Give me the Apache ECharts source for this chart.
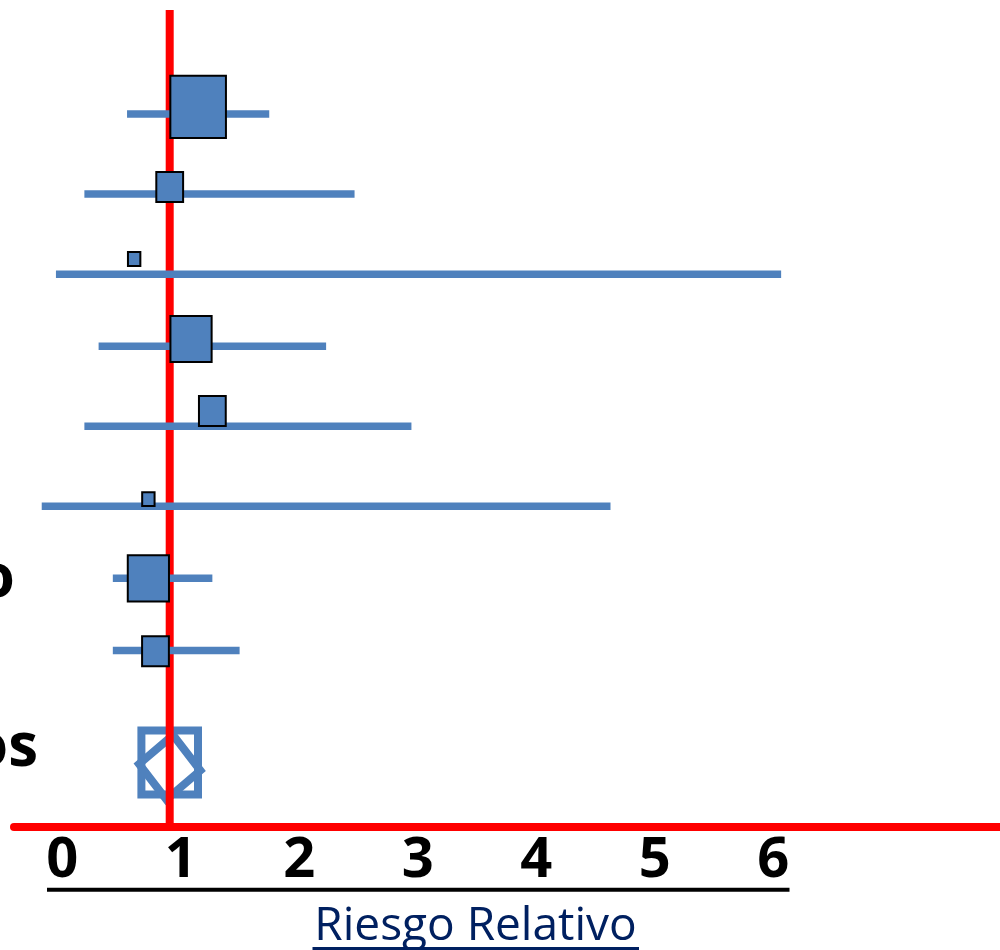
<!DOCTYPE html>
<html>
<head>
<meta charset="utf-8">
<script src="https://cdn.jsdelivr.net/npm/echarts@6/dist/echarts.min.js"></script>
<style>
  html, body { margin: 0; padding: 0; background: #ffffff; }
  #chart { width: 1000px; height: 950px; }
</style>
</head>
<body>
<div id="chart"></div>
<script>
// ---- data ----
const tickValues = [0, 1, 2, 3, 4, 5, 6];
const tickLabels = ['0', '1', '2', '3', '4', '5', '6'];
const axisTitle = 'Riesgo Relativo';

// study rows (top to bottom)
const rowPos   = [1.30, 2.30, 3.30, 4.20, 5.20, 6.20, 7.10, 8.00];
const boxPos   = [1.21, 2.21, 3.11, 4.11, 5.01, 6.11, 7.10, 8.01];
const estimate = [1.24, 1.00, 0.70, 1.18, 1.36, 0.82, 0.82, 0.88];
const lower    = [0.64, 0.28, 0.04, 0.40, 0.28, -0.08, 0.52, 0.52];
const upper    = [1.84, 2.56, 6.16, 2.32, 3.04, 4.72, 1.36, 1.59];
const weight   = [4, 2, 1, 3, 2, 1, 3, 2];

// pooled result
const pooledEstimate = [1.00];
const pooledLower    = [0.74];
const pooledUpper    = [1.26];
const pooledRow      = [9.46];
const pooledBoxRow   = [9.40];
const pooledWeight   = [4];

// visible fragments of row labels (cut off at the left edge)
const labelFragments = ['o', 'os'];
const referenceValue = [1];

// ---- styling ----
const BLUE = '#4F81BD';
const RED = '#FF0000';
const NAVY = '#002060';
const UNIT = 14.4; // px per weight unit

const chart = echarts.init(document.getElementById('chart'), null, { renderer: 'canvas' });

const option = {
  animation: false,
  backgroundColor: '#ffffff',
  grid: { left: 14, right: 0, top: 10, bottom: 123.5, containLabel: false, outerBoundsMode: 'none' },
  xAxis: {
    type: 'value',
    min: -0.314,
    max: 8.007,
    splitLine: { show: false },
    axisTick: { show: false },
    axisLine: { show: true, onZero: false, lineStyle: { color: RED, width: 8 } },
    axisLabel: {
      customValues: tickValues,
      formatter: v => tickLabels[tickValues.indexOf(v)] ?? '',
      fontFamily: 'Open Sans',
      fontWeight: 'bold',
      fontSize: 56,
      color: '#000000',
      margin: 7,
      padding: [0, 0, 0, 22]
    },
    name: axisTitle,
    nameLocation: 'middle',
    nameGap: 77,
    nameTextStyle: {
      fontFamily: 'Open Sans',
      fontSize: 46,
      color: NAVY,
      padding: [0, 63, 0, 0]
    }
  },
  yAxis: {
    type: 'value',
    inverse: true,
    min: 0,
    max: 10.2,
    show: false
  },
  series: [
    // pooled summary (under the reference line)
    {
      type: 'custom',
      z: 1,
      data: pooledEstimate.map((e, i) => [e, pooledRow[i], pooledLower[i], pooledUpper[i], pooledBoxRow[i], pooledWeight[i]]),
      encode: { x: [0, 2, 3], y: 1 },
      renderItem: function (params, api) {
        const c = api.coord([api.value(0), api.value(1)]);
        const l = api.coord([api.value(2), api.value(1)]);
        const r = api.coord([api.value(3), api.value(1)]);
        const bc = api.coord([api.value(0), api.value(4)]);
        const w = api.value(5) * UNIT - 1;
        const h = w * 1.13;
        const half = (r[0] - l[0]) / 2;
        const ang = 6 * Math.PI / 180;
        const rel = [[-half, 0], [0, -half * 1.05], [half, 0], [0, half * 1.05]];
        const pts = rel.map(p => [
          c[0] + p[0] * Math.cos(ang) - p[1] * Math.sin(ang),
          c[1] + p[0] * Math.sin(ang) + p[1] * Math.cos(ang)
        ]);
        return {
          type: 'group',
          children: [
            {
              type: 'rect',
              shape: { x: bc[0] - w / 2, y: bc[1] - h / 2, width: w, height: h },
              style: { fill: 'none', stroke: BLUE, lineWidth: 8 }
            },
            {
              type: 'polygon',
              shape: { points: pts },
              style: { fill: 'none', stroke: BLUE, lineWidth: 8, lineJoin: 'miter' }
            }
          ]
        };
      }
    },
    // reference line at RR = 1
    {
      type: 'custom',
      z: 2,
      data: referenceValue.map(v => [v]),
      encode: { x: 0 },
      renderItem: function (params, api) {
        const cs = params.coordSys;
        const x = api.coord([api.value(0), 0])[0];
        return {
          type: 'line',
          shape: { x1: x, y1: cs.y, x2: x, y2: cs.y + cs.height },
          style: { stroke: RED, lineWidth: 8, lineCap: 'butt' }
        };
      }
    },
    // confidence intervals
    {
      type: 'custom',
      z: 3,
      data: lower.map((l, i) => [l, upper[i], rowPos[i]]),
      encode: { x: [0, 1], y: 2 },
      renderItem: function (params, api) {
        const a = api.coord([api.value(0), api.value(2)]);
        const b = api.coord([api.value(1), api.value(2)]);
        return {
          type: 'line',
          shape: { x1: a[0], y1: a[1], x2: b[0], y2: b[1] },
          style: { stroke: BLUE, lineWidth: 7.5, lineCap: 'butt' }
        };
      }
    },
    // point estimates (weighted squares)
    {
      type: 'custom',
      z: 4,
      data: estimate.map((e, i) => [e, boxPos[i], weight[i]]),
      encode: { x: 0, y: 1 },
      renderItem: function (params, api) {
        const c = api.coord([api.value(0), api.value(1)]);
        const w = api.value(2) * UNIT - 2;
        const h = w * 1.12;
        return {
          type: 'rect',
          shape: { x: c[0] - w / 2, y: c[1] - h / 2, width: w, height: h },
          style: { fill: BLUE, stroke: '#000000', lineWidth: 2 }
        };
      }
    }
  ],
  graphic: [
    {
      type: 'text',
      style: {
        text: labelFragments[0], x: 15, y: 580,
        textAlign: 'right', textVerticalAlign: 'middle',
        font: 'bold 60px "Open Sans"', fill: '#000000'
      }
    },
    {
      type: 'text',
      style: {
        text: labelFragments[1], x: 38, y: 749,
        textAlign: 'right', textVerticalAlign: 'middle',
        font: 'bold 60px "Open Sans"', fill: '#000000'
      }
    },
    {
      type: 'line',
      shape: { x1: 47, y1: 889.7, x2: 789.5, y2: 889.7 },
      style: { stroke: '#000000', lineWidth: 4 }
    },
    {
      type: 'line',
      shape: { x1: 312.5, y1: 948.5, x2: 639, y2: 948.5 },
      style: { stroke: NAVY, lineWidth: 3 }
    }
  ]
};

chart.setOption(option);
</script>
</body>
</html>
